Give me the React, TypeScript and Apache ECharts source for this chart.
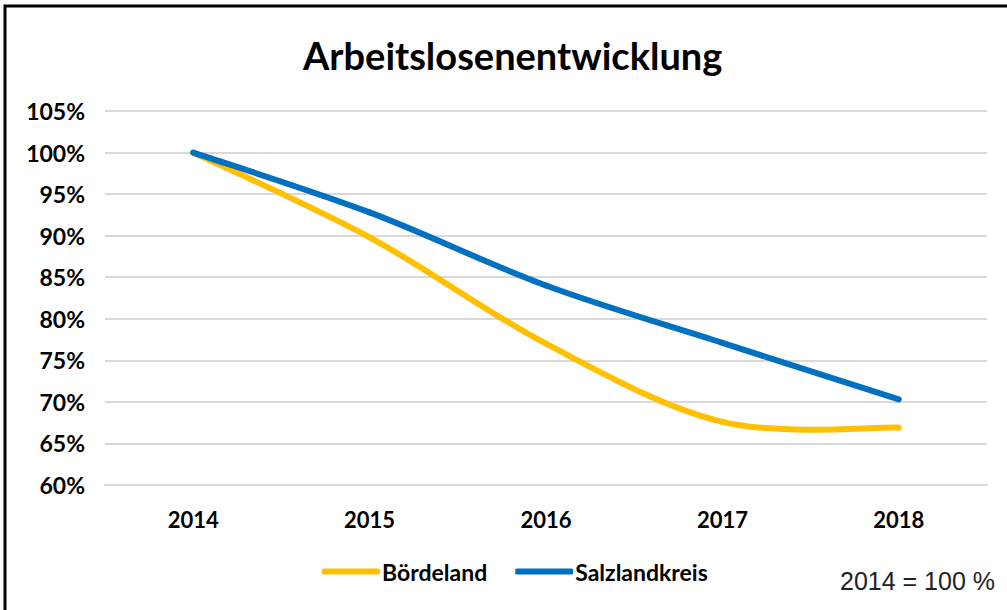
import React, { useEffect, useRef } from "react";
import * as echarts from "echarts";

const years = ["2014", "2015", "2016", "2017", "2018"];
const boerdeland = [100, 89.8, 77.0, 67.6, 66.9];
const salzlandkreis = [100, 92.8, 84.0, 77.1, 70.3];
const seriesNames = ["Bördeland", "Salzlandkreis"];
const seriesColors = ["#FFC000", "#0070C0"];
const titleText = "Arbeitslosenentwicklung";
const noteText = "2014 = 100 %";

// Excel-like smoothed segment (Catmull-Rom in Bezier form) via the axis scales
function smoothRenderer(values: number[], color: string) {
  return (params: any, api: any) => {
    const i = params.dataIndex;
    const n = values.length;
    if (i >= n - 1) return null;
    const p = (k: number) => {
      const kk = Math.max(0, Math.min(n - 1, k));
      return api.coord([kk, values[kk]]);
    };
    const p0 = p(i - 1);
    const p1 = p(i);
    const p2 = p(i + 1);
    const p3 = p(i + 2);
    const t = 1 / 6;
    return {
      type: "bezierCurve",
      shape: {
        x1: p1[0],
        y1: p1[1],
        cpx1: p1[0] + (p2[0] - p0[0]) * t,
        cpy1: p1[1] + (p2[1] - p0[1]) * t,
        cpx2: p2[0] - (p3[0] - p1[0]) * t,
        cpy2: p2[1] - (p3[1] - p1[1]) * t,
        x2: p2[0],
        y2: p2[1],
      },
      style: { stroke: color, lineWidth: 6, fill: "none", lineCap: "round" },
      silent: true,
    };
  };
}

export default function App() {
  const ref = useRef<HTMLDivElement>(null);
  useEffect(() => {
    const chart = echarts.init(ref.current!, null, { renderer: "svg" });
    const font = "Lato, 'Open Sans', sans-serif";
    const allSeries = [boerdeland, salzlandkreis];
    chart.setOption({
      animation: false,
      backgroundColor: "#fff",
      title: {
        text: titleText,
        left: 298,
        top: 31,
        textStyle: { fontFamily: font, fontWeight: "bold", fontSize: 38, color: "#000" },
      },
      grid: { left: 105, right: 20, top: 111, bottom: 125, containLabel: false },
      legend: {
        left: 317,
        top: 555,
        icon: "roundRect",
        itemWidth: 58,
        itemHeight: 6,
        itemGap: 28,
        textStyle: { fontFamily: font, fontWeight: "bold", fontSize: 23, color: "#000", padding: [0, 0, 0, -3] },
        data: seriesNames,
      },
      xAxis: {
        type: "category",
        data: years,
        boundaryGap: true,
        axisLine: { show: true, lineStyle: { color: "#d9d9d9", width: 2 } },
        axisTick: { show: false },
        axisLabel: { margin: 23, fontFamily: font, fontWeight: "bold", fontSize: 22, color: "#000" },
      },
      yAxis: {
        type: "value",
        min: 60,
        max: 105,
        interval: 5,
        axisLine: { show: false },
        axisTick: { show: false },
        splitLine: { lineStyle: { color: "#d9d9d9", width: 2 } },
        axisLabel: {
          formatter: "{value}%",
          margin: 20,
          fontFamily: font,
          fontWeight: "bold",
          fontSize: 23,
          color: "#000",
        },
      },
      graphic: [
        {
          type: "rect",
          shape: { x: 5, y: 6, width: 1020, height: 640 },
          style: { fill: "none", stroke: "#000", lineWidth: 3 },
          silent: true,
        },
        {
          type: "text",
          right: 12,
          top: 568,
          style: {
            text: noteText,
            fontFamily: "'Liberation Sans', Arial, sans-serif",
            fontSize: 25,
            fill: "#222",
          },
        },
      ],
      series: allSeries.map((vals, s) => ({
        name: seriesNames[s],
        type: "custom",
        data: vals.map((v, i) => [i, v]),
        encode: { x: 0, y: 1 },
        itemStyle: { color: seriesColors[s] },
        renderItem: smoothRenderer(vals, seriesColors[s]),
        clip: false,
      })),
    });
    return () => chart.dispose();
  }, []);
  return (
    <div
      ref={ref}
      style={{ position: "fixed", left: 0, top: 0, width: 1007, height: 610, background: "#fff" }}
    />
  );
}
